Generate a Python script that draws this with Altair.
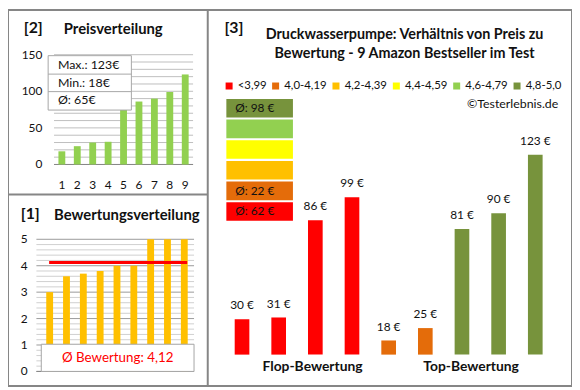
import altair as alt
import pandas as pd

# ---------------- data ----------------
produkt_nr = [1, 2, 3, 4, 5, 6, 7, 8, 9]
preise_sortiert = [18, 25, 30, 31, 81, 86, 90, 99, 123]
bewertungen = [3.0, 3.6, 3.7, 3.8, 4.0, 4.0, 5.0, 5.0, 5.0]
preis_ticks = [0, 50, 100, 150]
preis_grid = list(range(0, 151, 10))
bew_ticks = [0, 1, 2, 3, 4, 5]
bew_grid = [i / 5 for i in range(0, 26)]

p3_ids = ["f1", "f2", "f3", "f4", "m1", "m2", "t1", "t2", "t3"]
p3_preise = [30, 31, 86, 99, 18, 25, 81, 90, 123]
p3_klasse = ["<3,99"] * 4 + ["4,0-4,19"] * 2 + ["4,8-5,0"] * 3
klassen = ["<3,99", "4,0-4,19", "4,2-4,39", "4,4-4,59", "4,6-4,79", "4,8-5,0"]
klassen_farben = ["#FF0000", "#E46C0A", "#FFC000", "#FFFF00", "#92D050", "#77933C"]

# ---------------- derived ----------------
p_max, p_min = max(preise_sortiert), min(preise_sortiert)
p_avg = int(sum(preise_sortiert) / len(preise_sortiert) + 0.5)
b_avg = sum(bewertungen) / len(bewertungen)
b_avg_txt = f"{b_avg:.2f}".replace(".", ",")

block_order = klassen[::-1]
block_text = []
for k in block_order:
    vals = [p for p, c in zip(p3_preise, p3_klasse) if c == k]
    block_text.append(f"Ø: {int(sum(vals) / len(vals) + 0.5)} €" if vals else "")

# ---------------- layout helpers ----------------
W, H = 570, 380
SX, SY = W / 576, H / 387
FONT = "Lato"
TXT = "#111111"
ONE = pd.DataFrame({"a": [0]})


def X(x):
    return (x - 1) * SX


def Y(y):
    return (y - 1) * SY


def label(text, x, y, size=12, bold=False, align="left", color=TXT):
    return alt.Chart(ONE).mark_text(
        text=text, align=align, baseline="middle", font=FONT, fontSize=size,
        fontWeight="bold" if bold else "normal", color=color,
    ).encode(x=alt.value(X(x)), y=alt.value(Y(y)))


def box(x1, y1, x2, y2, fill="white", stroke="#A6A6A6", sw=1.0, fo=1.0):
    return alt.Chart(ONE).mark_rect(
        fill=fill, fillOpacity=fo, stroke=stroke, strokeWidth=sw
    ).encode(x=alt.value(X(x1)), x2=alt.value(X(x2)), y=alt.value(Y(y1)), y2=alt.value(Y(y2)))


def hline(x1, x2, y, color="#A6A6A6", sw=1.0):
    return alt.Chart(ONE).mark_rule(color=color, strokeWidth=sw).encode(
        x=alt.value(X(x1)), x2=alt.value(X(x2)), y=alt.value(Y(y)))


def vline(x, y1, y2, color="#868686", sw=2.0):
    return alt.Chart(ONE).mark_rule(color=color, strokeWidth=sw).encode(
        x=alt.value(X(x)), y=alt.value(Y(y1)), y2=alt.value(Y(y2)))


# ---------------- panel [2] Preisverteilung ----------------
df2 = pd.DataFrame({"nr": produkt_nr, "preis": preise_sortiert})
xs2 = alt.Scale(domain=produkt_nr, range=[X(48), X(190)], paddingInner=0.556, paddingOuter=0.286)
ys2 = alt.Scale(domain=[0, 150], range=[Y(160), Y(47)], nice=False)

grid2 = alt.Chart(pd.DataFrame({"v": preis_grid})).mark_rule(color="#BEBEBE", strokeWidth=1).encode(
    y=alt.Y("v:Q", scale=ys2, axis=None), x=alt.value(X(48)), x2=alt.value(X(190)))
base2 = alt.Chart(pd.DataFrame({"v": [0]})).mark_rule(color="#868686", strokeWidth=1).encode(
    y=alt.Y("v:Q", scale=ys2, axis=None), x=alt.value(X(48)), x2=alt.value(X(190)))
bars2 = alt.Chart(df2).mark_bar(color="#92D050").encode(
    x=alt.X("nr:O", scale=xs2, axis=None), y=alt.Y("preis:Q", scale=ys2, axis=None))
ylab2 = alt.Chart(pd.DataFrame({"t": preis_ticks})).mark_text(
    align="right", baseline="middle", font=FONT, fontSize=12, color=TXT).encode(
    y=alt.Y("t:Q", scale=ys2, axis=None), x=alt.value(X(36)), text="t:Q")
xlab2 = alt.Chart(df2).mark_text(baseline="middle", font=FONT, fontSize=12, color=TXT).encode(
    x=alt.X("nr:O", scale=xs2, axis=None), y=alt.value(Y(181)), text="nr:O")

p2 = alt.layer(
    grid2, base2, bars2, ylab2, xlab2,
    box(42, 48, 127, 104), hline(42, 127, 67), hline(42, 127, 85),
    label(f"Max.: {p_max}€", 52, 58, 12.5),
    label(f"Min.: {p_min}€", 52, 76, 12.5),
    label(f"Ø: {p_avg}€", 52, 94, 12.5),
    label("[2]", 17, 20, 16, True),
    label("Preisverteilung", 58, 21, 15, True),
)

# ---------------- panel [1] Bewertungsverteilung ----------------
df1 = pd.DataFrame({"nr": produkt_nr, "bew": bewertungen})
xs1 = alt.Scale(domain=produkt_nr, range=[X(30), X(194.6)], paddingInner=0.593, paddingOuter=0.585)
ys1 = alt.Scale(domain=[0, 5], range=[Y(373), Y(237)], nice=False)

gdf1 = pd.DataFrame({"v": bew_grid, "major": [abs(v - round(v)) < 1e-9 for v in bew_grid]})
grid1 = alt.Chart(gdf1).mark_rule(strokeWidth=1).encode(
    y=alt.Y("v:Q", scale=ys1, axis=None), x=alt.value(X(30)), x2=alt.value(X(191)),
    color=alt.condition("datum.major", alt.value("#9A9A9A"), alt.value("#CFCFCF")))
base1 = alt.Chart(pd.DataFrame({"v": [0]})).mark_rule(color="#868686", strokeWidth=1).encode(
    y=alt.Y("v:Q", scale=ys1, axis=None), x=alt.value(X(30)), x2=alt.value(X(191)))
bars1 = alt.Chart(df1).mark_bar(color="#FFC000").encode(
    x=alt.X("nr:O", scale=xs1, axis=None), y=alt.Y("bew:Q", scale=ys1, axis=None))
avg1 = alt.Chart(pd.DataFrame({"avg": [b_avg]})).mark_rule(color="#FF0000", strokeWidth=3).encode(
    y=alt.Y("avg:Q", scale=ys1, axis=None), x=alt.value(X(43)), x2=alt.value(X(184)))
ylab1 = alt.Chart(pd.DataFrame({"t": bew_ticks})).mark_text(
    align="right", baseline="middle", font=FONT, fontSize=12, color=TXT).encode(
    y=alt.Y("t:Q", scale=ys1, axis=None), x=alt.value(X(21)), text="t:Q")

p1 = alt.layer(
    grid1, base1, bars1, avg1,
    box(35, 345, 191, 373),
    label(f"Ø Bewertung: {b_avg_txt}", 113, 359, 13.5, False, "center", "#FF0000"),
    ylab1,
    label("[1]", 14, 211, 16, True),
    label("Bewertungsverteilung", 48, 212, 15, True),
)

# ---------------- panel [3] Preis vs Bewertung ----------------
df3 = pd.DataFrame({
    "id": p3_ids, "preis": p3_preise, "klasse": p3_klasse,
    "txt": [f"{p} €" for p in p3_preise],
})
xs3 = alt.Scale(domain=p3_ids, range=[X(205), X(574.5)], paddingInner=0.6, paddingOuter=0.735)
ys3 = alt.Scale(domain=[10, 123], range=[Y(355.7), Y(150)], zero=False, nice=False)
cs = alt.Scale(domain=klassen, range=klassen_farben)
leg = alt.Legend(
    orient="none", legendX=X(221), legendY=Y(73), direction="horizontal", title=None,
    symbolType="square", symbolSize=50, symbolStrokeWidth=0, symbolOpacity=1,
    labelFont=FONT, labelFontSize=11.5, labelColor=TXT, labelOffset=3, columnPadding=3, padding=0,
)

bars3 = alt.Chart(df3).mark_bar().encode(
    x=alt.X("id:N", scale=xs3, axis=None, sort=None),
    y=alt.Y("preis:Q", scale=ys3, axis=None), y2=alt.datum(10),
    color=alt.Color("klasse:N", scale=cs, legend=leg))
text3 = alt.Chart(df3).mark_text(dy=-14, baseline="middle", font=FONT, fontSize=12, color=TXT).encode(
    x=alt.X("id:N", scale=xs3, axis=None, sort=None),
    y=alt.Y("preis:Q", scale=ys3, axis=None), text="txt:N")
p3 = alt.layer(bars3, text3)

dfb = pd.DataFrame({"klasse": block_order, "txt": block_text})
ysb = alt.Scale(domain=block_order, range=[Y(91.5), Y(219)], paddingInner=0.1, paddingOuter=0.05)
blocks = alt.Chart(dfb).mark_rect().encode(
    y=alt.Y("klasse:N", scale=ysb, axis=None, sort=None),
    x=alt.value(X(224)), x2=alt.value(X(292)),
    color=alt.Color("klasse:N", scale=cs, legend=leg))
btext = alt.Chart(dfb).mark_text(align="left", baseline="middle", font=FONT, fontSize=12, color=TXT).encode(
    y=alt.Y("klasse:N", scale=ysb, axis=None, sort=None), x=alt.value(X(233)), text="txt:N")
pb = alt.layer(blocks, btext)

deco3 = alt.layer(
    label("[3]", 222, 20, 16, True),
    label("Druckwasserpumpe: Verhältnis von Preis zu", 406, 27, 14.5, True, "center"),
    label("Bewertung - 9 Amazon Bestseller im Test", 406, 46, 14.5, True, "center"),
    label("©Testerlebnis.de", 563, 98, 12.5, False, "right"),
    label("Flop-Bewertung", 312, 369, 14, True, "center"),
    label("Top-Bewertung", 474, 369, 14, True, "center"),
)

frame = alt.layer(
    box(1, 1, 577, 388, fill="white", stroke="#868686", sw=2, fo=0),
    vline(205, 1, 388),
    alt.Chart(ONE).mark_rule(color="#868686", strokeWidth=2).encode(
        x=alt.value(X(1)), x2=alt.value(X(205)), y=alt.value(Y(191))),
)

chart = alt.layer(p2, p1, p3, pb, deco3, frame).resolve_scale(
    x="independent", y="independent"
).properties(
    width=W, height=H, padding=0, autosize=alt.AutoSizeParams(type="none"),
    background="white",
).configure_view(strokeWidth=0)

chart.save("out.html", embed_options={"renderer": "svg", "actions": False})
